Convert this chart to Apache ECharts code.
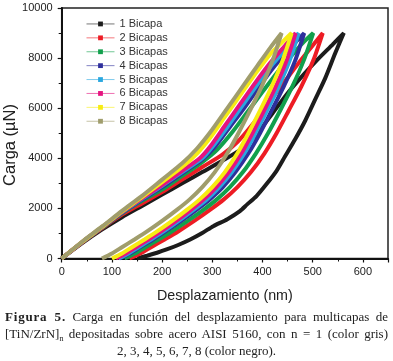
<!DOCTYPE html>
<html><head><meta charset="utf-8">
<script src="https://cdn.jsdelivr.net/npm/echarts@6/dist/echarts.min.js"></script>
<style>
html,body{margin:0;padding:0;background:#fff;}
#wrap{position:relative;width:393px;height:361px;overflow:hidden;}
#chart{position:absolute;left:0;top:0;width:393px;height:361px;}
#cap{position:absolute;left:5px;top:308px;width:383px;font-family:'Liberation Serif','Times New Roman',serif;font-size:13px;line-height:17px;color:#222;}
#cap .j{text-align:justify;text-align-last:justify;}
#cap .c{text-align:center;}
#cap b{letter-spacing:0.8px;}
#cap sub{font-size:8px;line-height:0;vertical-align:-3px;}
</style></head>
<body><div id="wrap"><div id="chart"></div>
<div id="cap"><div class="j"><b>Figura 5.</b> Carga en función del desplazamiento para multicapas de</div><div class="j">[TiN/ZrN]<sub>n</sub> depositadas sobre acero AISI 5160, con n = 1 (color gris)</div><div class="c">2, 3, 4, 5, 6, 7, 8 (color negro).</div></div></div>
<script>
const seriesNames = ['1 Bicapa','2 Bicapas','3 Bicapas','4 Bicapas','5 Bicapas','6 Bicapas','7 Bicapas','8 Bicapas'];
const seriesColors = ['#1c1c1c','#ed1c24','#12a04c','#2e2f9c','#2aa7df','#e5137f','#f7ec13','#a09d6c'];
const xTicks = [0,100,200,300,400,500,600];
const yTicks = [0,2000,4000,6000,8000,10000];

const load1 = [[0,0],[40,600],[80,1150],[120,1650],[160,2100],[200,2550],[240,3000],[280,3450],[320,3900],[360,4400],[390,5000],[420,5800],[450,6600],[480,7300],[510,7950],[540,8550],[562,9000]];
const unload1 = [[562,9000],[545,8200],[525,7200],[505,6350],[485,5500],[465,4760],[445,4080],[428,3500],[408,2970],[388,2490],[370,2170],[355,1890],[330,1570],[302,1290],[280,1020],[256,760],[232,540],[209,360],[190,230],[170,110],[150,0]];
const load2 = [[0,0],[40,620],[80,1200],[120,1750],[160,2200],[200,2650],[240,3150],[280,3650],[320,4150],[350,4650],[380,5350],[410,6150],[440,6950],[470,7750],[500,8500],[520,9000]];
const unload2 = [[520,9000],[501,7900],[477,6850],[452,5900],[428,5000],[404,4200],[377,3450],[350,2850],[323,2360],[296,1950],[264,1500],[232,1080],[205,760],[178,450],[157,200],[135,0]];
const load3 = [[0,0],[40,630],[80,1220],[120,1800],[160,2300],[200,2750],[240,3300],[280,3850],[310,4350],[340,5050],[370,5850],[400,6650],[430,7450],[460,8150],[480,8600],[501,9000]];
const unload3 = [[501,9000],[482,7900],[459,6850],[435,5900],[411,5000],[387,4200],[361,3450],[335,2850],[309,2360],[283,1950],[251,1500],[219,1080],[193,760],[167,450],[146,200],[125,0]];
const load4 = [[0,0],[40,640],[80,1230],[120,1820],[160,2350],[200,2850],[240,3400],[280,3950],[305,4450],[335,5250],[365,6050],[395,6900],[425,7700],[455,8400],[483,9000]];
const unload4 = [[483,9000],[465,7900],[442,6850],[418,5900],[395,5000],[372,4200],[346,3450],[321,2850],[295,2360],[269,1950],[238,1500],[207,1080],[182,760],[156,450],[136,200],[115,0]];
const load5 = [[0,0],[40,640],[80,1240],[120,1840],[160,2380],[200,2900],[240,3450],[280,4000],[300,4450],[330,5250],[360,6100],[390,6950],[420,7750],[450,8450],[472,9000]];
const unload5 = [[472,9000],[454,7900],[432,6850],[409,5900],[386,5000],[364,4200],[339,3450],[314,2850],[289,2360],[263,1950],[233,1500],[203,1080],[178,760],[153,450],[133,200],[113,0]];
const load6 = [[0,0],[40,645],[80,1245],[120,1850],[160,2400],[200,2930],[240,3500],[275,4000],[295,4450],[325,5300],[355,6150],[385,7000],[415,7800],[445,8500],[466,9000]];
const unload6 = [[466,9000],[448,7900],[426,6850],[403,5900],[380,5000],[358,4200],[333,3450],[308,2850],[283,2360],[258,1950],[228,1500],[198,1080],[173,760],[148,450],[128,200],[108,0]];
const load7 = [[0,0],[40,650],[80,1250],[120,1870],[160,2450],[200,3050],[240,3650],[270,4200],[295,4800],[325,5650],[355,6500],[385,7350],[415,8150],[440,8650],[458,9000]];
const unload7 = [[458,9000],[440,7900],[418,6850],[395,5900],[372,5000],[350,4200],[325,3450],[300,2850],[275,2360],[250,1950],[220,1500],[190,1080],[165,760],[140,450],[120,200],[100,0]];
const load8 = [[0,0],[40,660],[80,1270],[120,1900],[160,2500],[200,3150],[240,3800],[270,4400],[300,5150],[330,6000],[360,6850],[390,7700],[415,8400],[438,9000]];
const unload8 = [[438,9000],[420,7900],[398,6850],[375,5900],[352,5000],[330,4200],[305,3450],[280,2850],[255,2360],[230,1950],[200,1500],[170,1080],[145,760],[120,450],[100,200],[80,0]];

const loads = [load1,load2,load3,load4,load5,load6,load7,load8];
const unloads = [unload1,unload2,unload3,unload4,unload5,unload6,unload7,unload8];

const FONT = 'Arial';
const chart = echarts.init(document.getElementById('chart'), null, {renderer:'canvas'});
const series = seriesNames.map((name,i)=>({
  name: name,
  type: 'line',
  data: loads[i].concat(unloads[i].slice(1)),
  showSymbol: false,
  symbol: 'rect',
  symbolSize: 5,
  smooth: 0.25,
  lineStyle: {width: 4, color: seriesColors[i]},
  itemStyle: {color: seriesColors[i]},
  animation: false
}));
chart.setOption({
  animation: false,
  color: seriesColors,
  grid: {left: 61.7, right: 5, top: 8, bottom: 102.5, show: true, borderColor: '#222', borderWidth: 1.5, backgroundColor: 'transparent'},
  legend: {
    orient: 'vertical', left: 81, top: 12, itemWidth: 28, itemHeight: 6, itemGap: 0,
    data: seriesNames,
    lineStyle: {width: 1, opacity: 0.6},
    textStyle: {fontFamily: FONT, fontSize: 11, color: '#333', lineHeight: 13.9},
    selectedMode: false
  },
  xAxis: {
    type: 'value', min: xTicks[0], max: 650, interval: 100,
    name: 'Desplazamiento (nm)', nameLocation: 'middle', nameGap: 31,
    nameTextStyle: {fontFamily: FONT, fontSize: 14.3, color: '#222'},
    axisLine: {lineStyle: {color: '#111', width: 2}},
    axisTick: {show: true, inside: false, length: 4, lineStyle: {color: '#111', width: 1.2}},
    minorTick: {show: true, splitNumber: 2, length: 3, lineStyle: {color: '#111', width: 1}},
    axisLabel: {fontFamily: FONT, fontSize: 11, color: '#222', margin: 8,
      formatter: v => xTicks.indexOf(v) >= 0 ? String(v) : ''},
    splitLine: {show: false}
  },
  yAxis: {
    type: 'value', min: yTicks[0], max: yTicks[yTicks.length-1], interval: 2000,
    axisLine: {show: true, lineStyle: {color: '#111', width: 2}},
    axisTick: {show: true, inside: false, length: 4, lineStyle: {color: '#111', width: 1.2}},
    minorTick: {show: true, splitNumber: 2, length: 3, lineStyle: {color: '#111', width: 1}},
    axisLabel: {fontFamily: FONT, fontSize: 11, color: '#222', margin: 9,
      formatter: v => yTicks.indexOf(v) >= 0 ? String(v) : ''},
    splitLine: {show: false}
  },
  graphic: [{
    type: 'text', left: 2, top: 104, rotation: Math.PI/2,
    style: {text: 'Carga (µN)', font: "16.5px Arial", fill: '#222'}
  }],
  series: series
});
</script></body></html>
